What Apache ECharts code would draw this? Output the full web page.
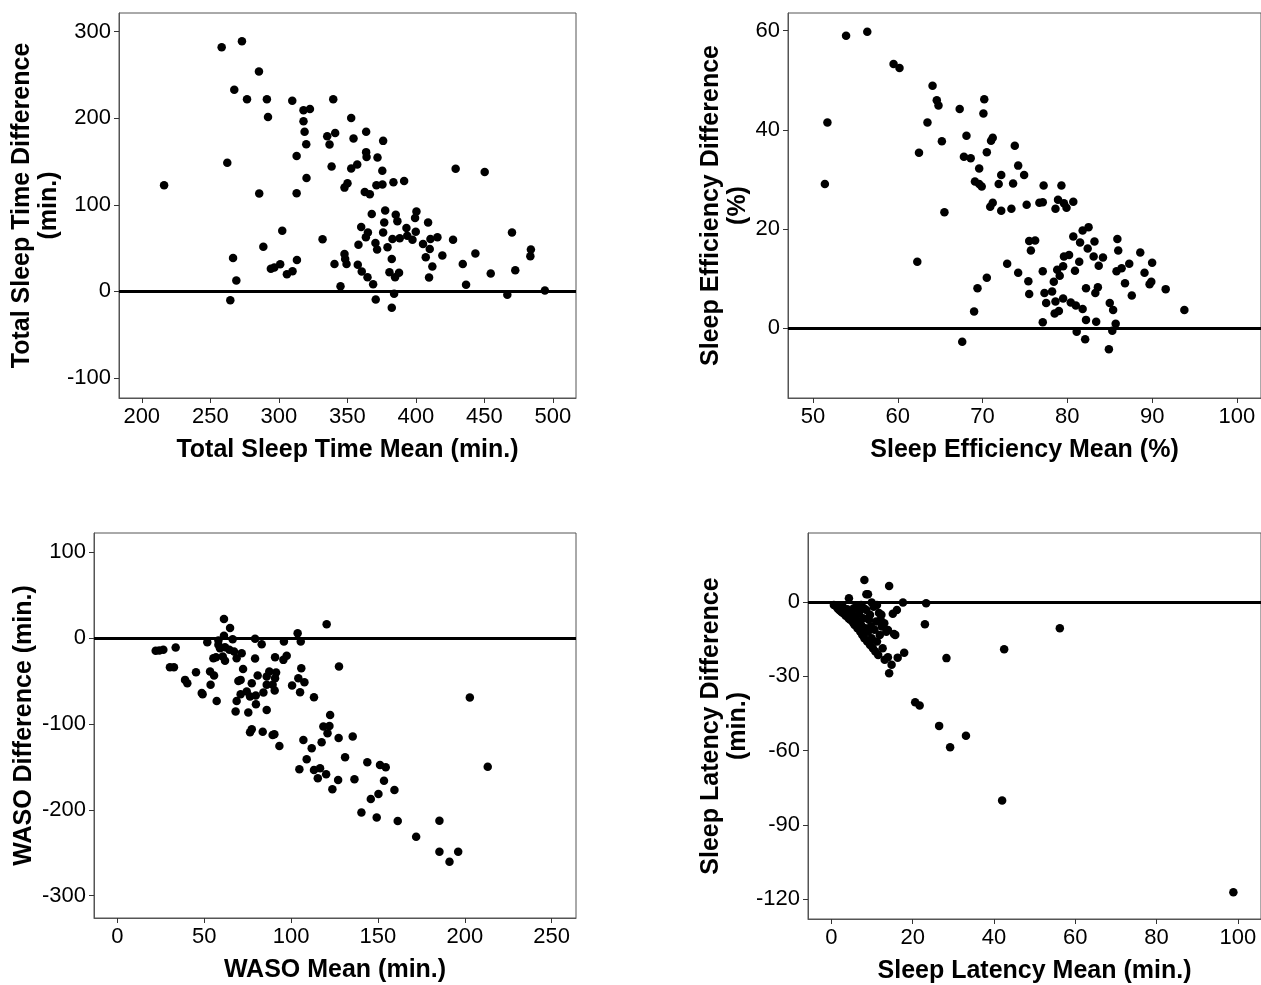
<!DOCTYPE html>
<html>
<head>
<meta charset="utf-8">
<script src="https://cdn.jsdelivr.net/npm/echarts@6/dist/echarts.min.js"></script>
<style>
html,body{margin:0;padding:0;background:#fff;}
#c{width:1261px;height:985px;}
</style>
</head>
<body>
<div id="c"></div>
<script>
// Panel 1: Total Sleep Time
var tstMean = [258.3,273.1,285.5,267.5,276.8,291.3,292.1,309.8,318,322.7,339.7,318,318.8,320,313,320.2,313,285.7,262.4,216.3,335.3,341.1,337,338.5,352.8,354.5,363.7,376.1,363.7,364,372,357.2,352.8,375.5,350.1,347.9,362.7,366.4,371.2,375.6,383.6,391.4,429,450.2,367.8,377.6,385.3,386.5,376.9,400.4,399.4,408.9,360.1,365,363.5,376.1,393.1,399.9,393.7,388.2,382.9,397.5,405.2,410.6,415.7,427.1,410.1,358.1,370.5,371.7,379.3,407.2,419.3,412,409.6,443.4,434.2,436.6,454.6,470.1,472.5,483.9,483.5,494.1,466.7,331.9,302.5,288.7,266.6,269,264.6,294.2,296.7,301,305.9,310,313.2,340.6,347.9,348.4,349.4,357.6,360.5,364.7,368.8,345,370.7,382.4,380.7,387.7,384.8,384.1,382.4];
var tstDiff = [282,288.9,254,233,222,222,201.5,220.3,209.2,210.7,222,196.6,184.3,170.1,156.3,131,113.4,113,148.7,122.6,179.3,183.1,169.7,144.4,200.4,176.6,184.3,173.9,160.9,155.2,154.8,146.7,142.1,139.5,124.9,119.9,114.9,112.3,122.6,123.4,126,127.6,141.8,137.9,89.3,93.5,88.5,81.2,79.7,92.3,84.7,79.7,74.3,68.2,62.5,68.2,73.2,69,64.4,61.3,60.5,59.8,54.8,60.5,62.5,59.8,49,54,55.9,48.3,51,39.5,41.4,28.7,16.1,43.7,31.8,7.7,20.7,68.2,24.5,48.3,40.6,1.1,-3.8,60.2,70.1,51.7,38.7,12.6,-10.3,26.1,27.6,31.4,19.9,23.4,36.4,31.8,43.3,37.5,31.8,30.7,23,16.5,8.4,6.1,-9.2,37.5,22.2,21.5,16.5,-2.7,-18.8];

// Panel 2: Sleep Efficiency
var seMean = [51.4,51.7,53.9,56.4,59.5,60.2,62.5,62.3,63.5,64.1,64.6,64.8,65.2,65.5,67.3,68.1,67.8,68.6,67.6,69.0,69.4,70.5,70.2,70.1,70.5,71.2,71.0,69.6,69.1,69.9,69.6,71.2,70.9,72.2,72.2,71.9,73.4,73.6,73.8,74.2,74.9,75.2,76.7,77.1,77.2,78.6,78.9,79.3,79.6,79.9,80.7,72.9,74.2,75.4,75.5,75.7,75.5,76.2,77.1,77.1,77.3,77.5,78.2,78.4,78.6,78.8,79.1,78.5,79.0,79.5,79.5,79.6,80.2,80.7,81.5,81.8,82.5,81.4,80.9,82.4,83.2,83.1,83.7,84.2,82.2,83.6,83.3,80.4,81.0,81.8,82.2,83.4,81.1,82.1,84.9,85.0,85.4,85.7,85.3,85.9,86.0,85.8,86.4,86.8,87.3,87.6,88.6,89.1,89.7,89.9,90.0,91.6,93.8];
var seDiff = [29.1,41.5,59.0,59.8,53.3,52.5,35.4,13.4,41.5,48.9,46.0,44.9,37.7,23.4,44.2,38.8,34.6,34.3,-2.7,3.4,8.1,10.2,46.2,43.3,35.5,38.4,37.8,32.2,29.6,28.6,29.1,25.3,24.5,23.7,30.9,29.1,24.1,29.2,36.8,32.8,30.9,24.9,25.3,25.4,28.8,24.1,25.9,28.8,25.2,24.3,25.5,13.0,11.2,9.5,6.9,15.7,17.6,17.7,11.5,1.2,7.1,5.1,7.4,9.4,5.4,11.8,10.6,3.0,3.5,6.0,12.5,14.5,14.8,18.5,17.3,19.7,20.4,13.4,11.6,16.1,17.5,14.5,12.6,14.3,8.1,8.3,7.1,5.2,4.6,3.9,1.7,1.3,-0.7,-2.2,-4.2,5.1,3.7,0.9,-0.5,18.0,15.7,11.5,12.1,9.1,13.0,6.6,15.3,11.2,8.9,9.4,13.2,7.9,3.7];

// Panel 3: WASO
var wasoMean = [22.1,24.2,26.5,33.6,30.3,32.6,39.0,40.3,45.3,48.6,49.1,53.7,53.4,55.7,57.2,51.8,61.4,64.9,61.4,66.4,58.2,59.1,62.0,64.5,67.2,55.3,56.8,60.7,62.0,68.7,71.6,72.4,79.3,83.1,79.3,69.7,71.0,77.4,80.8,86.0,87.5,91.4,90.8,95.6,97.5,95.9,103.8,105.6,120.5,127.6,105.9,104.2,107.7,100.6,105.2,89.4,90.6,84.1,79.7,74.5,71.0,76.4,68.7,79.8,86.0,68.1,75.4,113.2,122.5,118.6,122.1,121.0,77.4,76.4,83.7,89.4,90.4,93.3,107.1,111.9,117.6,127.4,135.5,131.1,109.0,104.8,113.2,116.7,120.2,115.4,127.1,123.8,136.5,143.9,151.2,154.5,153.5,159.5,150.3,145.9,140.5,149.3,161.4,172.0,185.4,185.4,191.2,196.2,202.9,213.2,86.0,90.8,58.2];
var wasoDiff = [-14.8,-14.4,-13.6,-10.9,-33.8,-33.8,-48.6,-52.5,-39.7,-63.8,-65.3,-54.4,-38.9,-43.5,-73.1,-4.7,22.2,11.7,2.7,-1.2,-7.8,-11.7,-10.5,-13.6,-15.6,-23.3,-22.2,-21.4,-26.4,-23.3,-17.5,-35.8,-0.8,-7.0,-23.7,-49.8,-48.6,-52.5,-43.5,-44.7,-38.9,-40.0,-22.2,-25.3,-20.6,-3.9,5.8,-3.9,16.3,-33.0,-35.0,-46.7,-51.3,-55.2,-63.0,-54.4,-61.0,-63.4,-66.9,-62.2,-65.3,-68.0,-73.1,-77.0,-83.6,-85.5,-86.7,-68.8,-89.4,-103.0,-102.3,-110.8,-106.1,-109.6,-108.9,-112.8,-112.0,-125.6,-118.6,-128.3,-121.3,-116.3,-114.7,-138.8,-141.1,-152.8,-153.6,-151.6,-158.6,-163.3,-165.2,-176.1,-164.5,-144.6,-147.7,-150.5,-166.0,-176.9,-181.6,-187.4,-203.0,-208.8,-213.1,-231.3,-212.7,-248.8,-260.5,-248.8,-69.2,-149.7,-54.4,-46.7,-2.7];

// Panel 4: Sleep Latency
var slMean = [8.1,8.6,9.0,14.2,4.3,17.6,23.3,23.0,16.1,15.1,56.2,42.5,28.3,17.9,16.3,14.2,14.8,13.1,13.9,20.6,21.7,26.5,29.2,33.1,42.0,98.9,0.6,1.1,1.5,1.9,2.4,2.8,3.3,3.5,3.9,4.2,4.6,5.0,5.3,5.7,5.9,6.4,6.6,6.8,7.1,7.3,7.6,7.8,8.1,8.3,8.6,8.8,9.0,9.2,9.5,9.7,9.9,10.2,10.4,10.6,10.8,11.0,11.2,11.5,11.7,11.9,12.1,12.4,12.6,13.0,13.5,13.9,15.4,15.7,2.1,2.8,5.5,7.3,9.9,11.2,12.3,9.5,8.0,6.2];
var slDiff = [9.0,3.2,3.2,6.6,1.6,-0.1,-0.4,-8.9,-3.1,-4.7,-10.5,-19.0,-22.6,-20.4,-22.4,-28.7,-25.3,-23.3,-22.2,-40.4,-41.8,-50.0,-58.6,-54.0,-80.2,-117.3,-1.1,-1.5,-2.4,-3.1,-3.8,-4.4,-3.1,-5.5,-2.8,-6.5,-7.1,-5.1,-8.2,-9.2,-6.5,-10.5,-7.8,-4.4,-11.9,-9.2,-13.2,-6.5,-14.6,-10.5,-3.1,-15.9,-11.9,-7.1,-17.3,-9.8,-14.6,-18.6,-1.8,-11.1,-19.9,-7.8,-15.9,-21.3,-4.4,-13.2,-7.1,-9.8,-18.6,-8.5,-11.9,-11.2,-12.8,-13.2,-1.8,-1.8,-2.4,-1.1,-0.1,-1.1,-5.1,-5.1,-2.4,-1.8];

// Tick labels
var tstXTicks = [200,250,300,350,400,450,500];
var tstYTicks = [-100,0,100,200,300];
var seXTicks = [50,60,70,80,90,100];
var seYTicks = [0,20,40,60];
var wasoXTicks = [0,50,100,150,200,250];
var wasoYTicks = [-300,-200,-100,0,100];
var slXTicks = [0,20,40,60,80,100];
var slYTicks = [-120,-90,-60,-30,0];

function zip(a,b){var r=[];for(var i=0;i<a.length;i++){r.push([a[i],b[i]]);}return r;}

var FONT = '"Liberation Sans", Arial, Helvetica, sans-serif';
var AX = '#555';

function xAx(idx,min,max,ticks,name){
  return {gridIndex:idx,type:'value',min:min,max:max,
    name:name,nameLocation:'middle',nameGap:40,
    nameTextStyle:{fontFamily:FONT,fontSize:25,fontWeight:'bold',color:'#000'},
    axisLine:{show:true,onZero:false,lineStyle:{color:AX,width:1}},
    axisTick:{show:true,inside:false,length:5,lineStyle:{color:'#333'},customValues:ticks},
    axisLabel:{show:true,margin:8,fontFamily:FONT,fontSize:22,color:'#000',customValues:ticks},
    splitLine:{show:false}};
}
function yAx(idx,min,max,ticks,name,gap){
  return {gridIndex:idx,type:'value',min:min,max:max,
    name:name,nameLocation:'middle',nameGap:gap,nameRotate:90,
    nameTextStyle:{fontFamily:FONT,fontSize:25,fontWeight:'bold',color:'#000',lineHeight:27},
    axisLine:{show:true,onZero:false,lineStyle:{color:AX,width:1}},
    axisTick:{show:true,inside:false,length:5,lineStyle:{color:'#333'},customValues:ticks},
    axisLabel:{show:true,margin:8,fontFamily:FONT,fontSize:22,color:'#000',customValues:ticks},
    splitLine:{show:false}};
}
function ser(idx,data){
  return {type:'scatter',xAxisIndex:idx,yAxisIndex:idx,data:data,symbol:'circle',symbolSize:8.5,
    itemStyle:{color:'#000',opacity:1},silent:true,
    markLine:{silent:true,symbol:['none','none'],label:{show:false},
      lineStyle:{color:'#000',width:3,type:'solid'},data:[{yAxis:0}]}};
}

var chart = echarts.init(document.getElementById('c'),null,{renderer:'canvas'});
chart.setOption({
  animation:false,
  backgroundColor:'#fff',
  grid:[
    {left:119,top:13,width:457,height:385,show:true,borderColor:AX,borderWidth:1,backgroundColor:'transparent'},
    {left:788,top:13,width:478,height:385,show:true,borderColor:AX,borderWidth:1,backgroundColor:'transparent'},
    {left:94,top:533,width:482,height:385,show:true,borderColor:AX,borderWidth:1,backgroundColor:'transparent'},
    {left:808,top:533,width:458,height:386,show:true,borderColor:AX,borderWidth:1,backgroundColor:'transparent'}
  ],
  xAxis:[
    xAx(0,183.4,516.8,tstXTicks,'Total Sleep Time Mean (min.)'),
    xAx(1,47.05,102.84,seXTicks,'Sleep Efficiency Mean (%)'),
    xAx(2,-13.4,264.0,wasoXTicks,'WASO Mean (min.)'),
    xAx(3,-5.77,105.7,slXTicks,'Sleep Latency Mean (min.)')
  ],
  yAxis:[
    yAx(0,-123.1,321.6,tstYTicks,'Total Sleep Time Difference\n(min.)',45),
    yAx(1,-14.05,63.57,seYTicks,'Sleep Efficiency Difference\n(%)',31),
    yAx(2,-326,122.5,wasoYTicks,'WASO Difference (min.)',49),
    yAx(3,-128.1,28.0,slYTicks,'Sleep Latency Difference\n(min.)',55)
  ],
  series:[
    ser(0,zip(tstMean,tstDiff)),
    ser(1,zip(seMean,seDiff)),
    ser(2,zip(wasoMean,wasoDiff)),
    ser(3,zip(slMean,slDiff))
  ]
});
</script>
</body>
</html>
